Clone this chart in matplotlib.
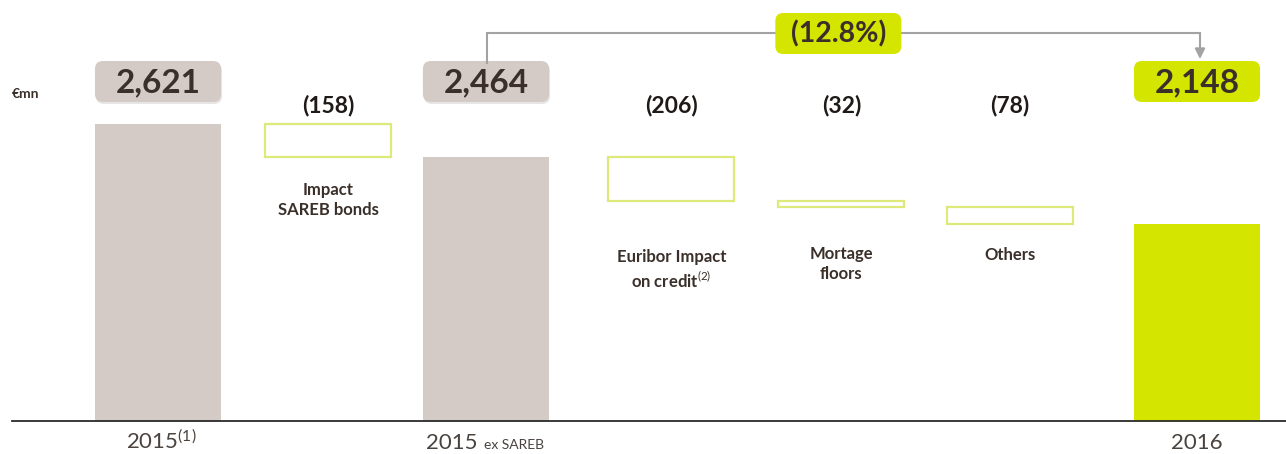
import matplotlib
matplotlib.use("Agg")
import matplotlib.pyplot as plt
from matplotlib.patches import FancyBboxPatch

plt.rcParams['font.family'] = ['Lato', 'DejaVu Sans']
plt.rcParams['mathtext.fontset'] = 'custom'
plt.rcParams['mathtext.rm'] = 'Lato'
plt.rcParams['mathtext.it'] = 'Lato'
plt.rcParams['mathtext.bf'] = 'Lato:bold'

# ---- data ----
steps = ["2015", "Impact SAREB bonds", "2015 ex SAREB", "Euribor Impact on credit",
         "Mortage floors", "Others", "2016"]
kinds = ["total", "delta", "total", "delta", "delta", "delta", "total"]
values = [2621, -158, 2464, -206, -32, -78, 2148]
value_labels = ["2,621", "(158)", "2,464", "(206)", "(32)", "(78)", "2,148"]
captions = ["", "Impact\nSAREB bonds", "", "Euribor Impact\non credit$^{(2)}$",
            "Mortage\nfloors", "Others", ""]
change_ref, change_end = 2464, 2148
unit_label = "€mn"

# ---- layout / style ----
xpos = [0, 0.982, 1.894, 2.964, 3.946, 4.921, 6]
bar_w = 0.728
GRAY = "#d5cbc6"
GREEN = "#d4e500"
GREEN_EDGE = "#dde978"
DARK = "#3a2f29"
W, H = 1286, 454

fig = plt.figure(figsize=(W / 100, H / 100), dpi=100)
fig.patch.set_facecolor("white")
ax = fig.add_axes([0, 33 / H, 1, 421 / H])
ax.set_xlim(-158 / 173.17, 6 + 89 / 173.17)
ax.set_ylim(1216, 3206)
ax.axis("off")

# overlay in pixel coordinates (origin top-left)
ov = fig.add_axes([0, 0, 1, 1], zorder=5)
ov.set_xlim(0, W)
ov.set_ylim(H, 0)
ov.axis("off")
ov.patch.set_alpha(0)


def px(x):
    return ax.transData.transform((x, 2000))[0]


running = 0
for i, (k, v) in enumerate(zip(kinds, values)):
    x = xpos[i]
    if k == "total":
        color = GREEN if i == len(values) - 1 else GRAY
        ax.bar(x, v, width=bar_w, color=color, zorder=2)
        running = v
    else:
        ax.bar(x, abs(v), bottom=running + v, width=bar_w, fill=False,
               edgecolor=GREEN_EDGE, linewidth=1.6, zorder=2)
        running = running + v

ax.axhline(1216, xmin=12 / W, xmax=1, color="#2a2a2a", lw=1.3, clip_on=False, zorder=3)

# value boxes for totals
bw = bar_w * 173.17
for i, k in enumerate(kinds):
    cx = px(xpos[i])
    if k == "total":
        fc = GREEN if i == len(values) - 1 else GRAY
        top, bot = 61, 102
        if fc == GRAY:
            sh = FancyBboxPatch((cx - bw / 2 + 6 + 1, top + 6 + 2), bw - 12, bot - top - 12,
                                boxstyle="round,pad=6,rounding_size=8",
                                fc="#a59d98", ec="none", alpha=0.25)
            ov.add_patch(sh)
        box = FancyBboxPatch((cx - bw / 2 + 6, top + 6), bw - 12, bot - top - 12,
                             boxstyle="round,pad=6,rounding_size=8",
                             fc=fc, ec="none")
        ov.add_patch(box)
        ov.text(cx, (top + bot) / 2 + 1, value_labels[i], ha="center", va="center",
                fontsize=24, fontweight="bold", color=DARK)
    else:
        ov.text(cx, 106, value_labels[i], ha="center", va="center",
                fontsize=16.5, fontweight="bold", color="#1f1a17")

# captions under delta boxes
cap_y = [0, 200, 0, 270, 264, 255, 0]
for i, c in enumerate(captions):
    if c:
        ov.text(px(xpos[i]), cap_y[i], c, ha="center", va="center", fontsize=12,
                fontweight="bold", color=DARK, linespacing=1.35)

# x labels
cx0 = px(xpos[0])
ov.text(cx0 + 3, 449, "2015$^{(1)}$", ha="center", va="baseline", fontsize=16, color="#4a433e")
cx2 = px(xpos[2])
ov.text(cx2 - 8, 449, "2015", ha="right", va="baseline", fontsize=16, color="#4a433e")
ov.text(cx2 - 2, 449, "ex SAREB", ha="left", va="baseline", fontsize=10, color="#4a433e")
cx6 = px(xpos[6])
ov.text(cx6, 449, "2016", ha="center", va="baseline", fontsize=16, color="#4a433e")

# unit label
ov.text(12, 94, unit_label, ha="left", va="center", fontsize=10, fontweight="bold", color=DARK)

# connector and percent change
pct = (change_end - change_ref) / change_ref * 100
conn_y = 33
x_start = px(xpos[2]) + 1
x_end = px(xpos[6]) + 3
ov.plot([x_start, x_start, x_end, x_end], [63, conn_y, conn_y, 50], color="#a3a3a3", lw=1.5,
        solid_joinstyle="miter", zorder=1)
ov.annotate("", xy=(x_end, 59), xytext=(x_end, 48),
            arrowprops=dict(arrowstyle="-|>,head_length=0.6,head_width=0.3",
                            color="#a3a3a3", lw=1.5, shrinkA=0, shrinkB=0))
pcx = px(xpos[4]) - 3
pb = FancyBboxPatch((pcx - 63 + 6, 13 + 6), 126 - 12, 41 - 12,
                    boxstyle="round,pad=6,rounding_size=8", fc=GREEN, ec="none", zorder=3)
ov.add_patch(pb)
ov.text(pcx, 34, f"({abs(pct):.1f}%)", ha="center", va="center", fontsize=20.5,
        fontweight="bold", color=DARK, zorder=4)

fig.savefig("out.png", dpi=100, facecolor="white")
